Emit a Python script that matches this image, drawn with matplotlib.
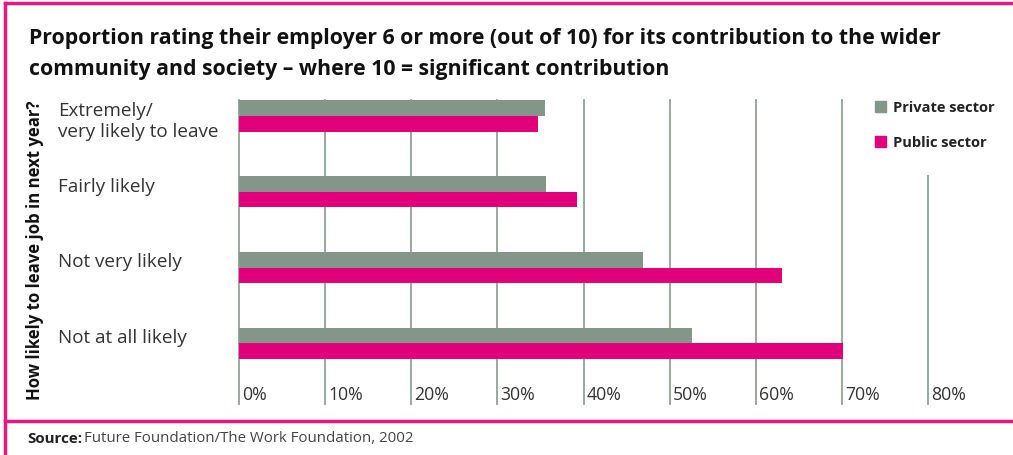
import matplotlib.pyplot as plt
from matplotlib.patches import Rectangle
from matplotlib.lines import Line2D

categories = ["Extremely/\nvery likely to leave", "Fairly likely", "Not very likely", "Not at all likely"]
private = [35.5, 35.7, 46.9, 52.6]
public = [34.7, 39.2, 63.1, 70.1]
ticks = [0, 10, 20, 30, 40, 50, 60, 70, 80]
tick_labels = ["0%", "10%", "20%", "30%", "40%", "50%", "60%", "70%", "80%"]

GREEN = "#84958A"
PINK = "#E2007A"
FRAME = "#E6187F"
GRID = "#9BA89F"

plt.rcParams['font.family'] = ['Open Sans', 'DejaVu Sans']

W, H = 1013, 456
fig = plt.figure(figsize=(W / 100, H / 100), dpi=100)

# plot area in pixel terms: x 239..928, y 101..405
ax = fig.add_axes([239 / W, (H - 405) / H, (928 - 239) / W, (405 - 101) / H])
ax.set_xlim(0, 80)
ylo, yhi = -0.211, 3.80
ax.set_ylim(yhi, ylo)
ax.axis('off')

bh = 0.205
for i in range(len(categories)):
    ax.barh(i - bh / 2, private[i], height=bh, color=GREEN, zorder=3)
    ax.barh(i + bh / 2, public[i], height=bh, color=PINK, zorder=3)
    ax.text(-21.0, i - 0.2, categories[i], ha='left', va='top', fontsize=13.6,
            color='#333333', linespacing=1.25, clip_on=False)

for t, lab in zip(ticks, tick_labels):
    top = ylo if t < 80 else 0.79
    ax.plot([t, t], [top, yhi], color=GRID, lw=1.4, zorder=1, clip_on=False)
    ax.text(t + 0.35, 3.67, lab, ha='left', va='center', fontsize=12.7,
            color='#333333')

# legend
fig.patches.append(Rectangle((875 / W, (H - 113) / H), 11 / W, 11 / H,
                             transform=fig.transFigure, color=GREEN))
fig.patches.append(Rectangle((875 / W, (H - 148) / H), 11 / W, 11 / H,
                             transform=fig.transFigure, color=PINK))
fig.text(893 / W, (H - 108) / H, "Private sector", fontsize=10.5, fontweight='bold',
         color='#222222', va='center')
fig.text(893 / W, (H - 143) / H, "Public sector", fontsize=10.5, fontweight='bold',
         color='#222222', va='center')

# title
fig.text(29 / W, (H - 54) / H,
         "Proportion rating their employer 6 or more (out of 10) for its contribution to the wider\n"
         "community and society \u2013 where 10 = significant contribution",
         fontsize=15.3, fontweight='bold', color='#111111', va='center', linespacing=1.65)

fig.text(35 / W, (H - 250) / H, "How likely to leave job in next year?", rotation=90,
         fontsize=12.1, fontweight='bold', color='#111111', ha='center', va='center')

# frame
fig.lines.append(Line2D([5 / W, 1], [(H - 3.5) / H] * 2, transform=fig.transFigure, color=FRAME, lw=2.5))
fig.lines.append(Line2D([5 / W, 5 / W], [0, (H - 3.5) / H], transform=fig.transFigure, color=FRAME, lw=2.5))
fig.lines.append(Line2D([5 / W, 1], [(H - 422) / H] * 2, transform=fig.transFigure, color=FRAME, lw=2.5))

fig.text(27 / W, (H - 439) / H, "Source:", fontsize=10.9, fontweight='bold', color='#222222', va='center')
fig.text(84 / W, (H - 439) / H, "Future Foundation/The Work Foundation, 2002", fontsize=10.8,
         color='#444444', va='center')

fig.savefig("out.png", dpi=100)
